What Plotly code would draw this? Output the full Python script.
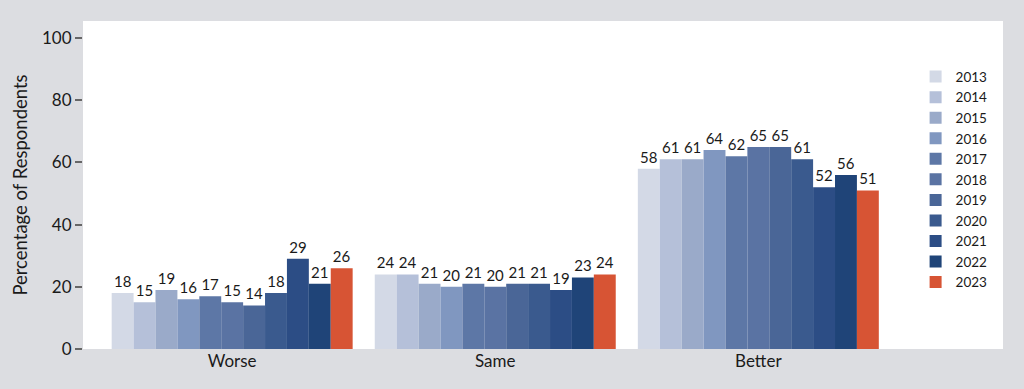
import plotly.graph_objects as go

categories = ["Worse", "Same", "Better"]
years = ["2013", "2014", "2015", "2016", "2017", "2018", "2019", "2020", "2021", "2022", "2023"]
worse = [18, 15, 19, 16, 17, 15, 14, 18, 29, 21, 26]
same = [24, 24, 21, 20, 21, 20, 21, 21, 19, 23, 24]
better = [58, 61, 61, 64, 62, 65, 65, 61, 52, 56, 51]
colors = ["#d3d9e6", "#b5c0d9", "#9aaac9", "#8097c0", "#5d77a6", "#5a73a3",
          "#4a6697", "#3a5a8e", "#2c4d85", "#1f4478", "#d75434"]

FONT = "Lato, Noto Sans, sans-serif"

fig = go.Figure()
for i, y in enumerate(years):
    vals = [worse[i], same[i], better[i]]
    fig.add_trace(go.Bar(
        x=categories, y=vals, name=y,
        marker=dict(color=colors[i], line=dict(width=0)),
        text=[str(v) for v in vals], textposition="outside",
        textfont=dict(size=15, color="#1a1a1a", family=FONT),
        cliponaxis=False,
    ))

fig.update_layout(
    barmode="group", bargap=0.084, bargroupgap=0,
    width=1024, height=389,
    margin=dict(l=83, r=21, t=21, b=40, autoexpand=False),
    paper_bgcolor="#dcdde1", plot_bgcolor="#ffffff",
    font=dict(family=FONT, size=17, color="#1a1a1a"),
    showlegend=True,
    legend=dict(x=0.905, y=0.877, xanchor="left", yanchor="top",
                bgcolor="rgba(0,0,0,0)", font=dict(size=13.5),
                traceorder="normal", itemwidth=30),
)
fig.update_xaxes(range=[-0.567, 2.93], showgrid=False, showline=False,
                 ticks="", tickfont=dict(size=17))
fig.update_yaxes(range=[0, 105.5], tickvals=[0, 20, 40, 60, 80, 100],
                 showgrid=False, zeroline=False, showline=False,
                 ticks="outside", ticklen=7, tickwidth=2, tickcolor="#666666",
                 tickfont=dict(size=17),
                 title=dict(text="Percentage of Respondents", font=dict(size=18.5), standoff=9))

fig.write_html("out.html",
               config={"displayModeBar": False},
               post_script="document.body.style.margin='0';document.body.style.overflow='hidden';")
